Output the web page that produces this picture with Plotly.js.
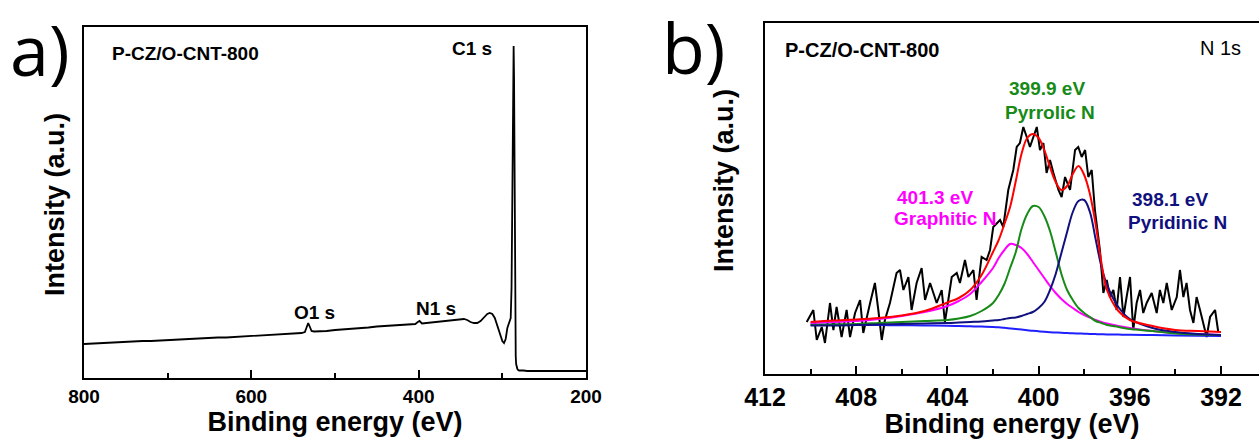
<!DOCTYPE html>
<html>
<head>
<meta charset="utf-8">
<script src="https://cdn.plot.ly/plotly-3.0.1.min.js"></script>
<style>html,body{margin:0;padding:0;background:#fff;overflow:hidden}#chart{width:1259px;height:439px}</style>
</head>
<body>
<div id="chart"></div>
<script>
// ---- Panel a: XPS survey spectrum ----
const surveyE = [800,790,780,770,760,750,740,730,720,710,700,
  690,680,670,660,650,640,630,620,610,600,590,580,570,560,550,
  545,540,536,534,532,530,528,525,520,
  510,500,490,480,470,460,450,440,430,420,410,
  404,401,399,396,
  390,380,370,360,352,346,342,338,334,330,326,322,318,315,312,309,306,303,300,298,296,294,292,290,
  289,288,287.5,287,286.5,286,285.5,285,284.5,284,283.5,283,282,281,280,
  275,270,260,250,240,230,220,210,200];
const surveyI = [34,34.5,35,35.5,35.5,36,36.5,37,37,37.5,38,
  38.5,38.5,39,39.5,40,40.5,40.5,41,41.5,42,42.5,43,43.5,44,44.5,
  45,45,46,50,55,51,47,46.5,46.5,
  47,48,48.5,49.5,50,50.5,51.5,52,52.5,53,53.5,
  54,56,57,54.5,
  55,56,57,57.5,58.5,59,58,56,55,55,57,61,64,65,64,60,53,44,37,35,39,50,56,60,
  90,180,260,318,332,300,210,120,50,22,14,11,9,8,7.5,
  7.5,7,7,7,7,7,7,7,7];

// ---- Panel b: N 1s high-resolution spectrum ----
const n1sE = [410.17,409.88,409.73,409.51,409.37,409.15,409.00,408.86,408.64,408.42,
  408.27,408.05,407.83,407.69,407.39,407.18,407.03,406.88,406.74,406.52,
  406.23,406.08,405.93,405.71,405.57,405.35,405.13,404.98,404.76,404.47,
  404.25,404.11,403.96,403.81,403.59,403.45,403.23,403.08,402.86,402.72,
  402.57,402.50,402.28,402.13,401.99,401.69,401.55,401.33,401.11,400.96,
  400.82,400.67,400.52,400.38,400.23,400.08,399.94,399.79,399.65,399.50,
  399.35,399.13,398.99,398.84,398.62,398.40,398.26,398.11,397.96,397.82,
  397.67,397.53,397.31,397.16,397.01,396.87,396.72,396.58,396.43,396.28,
  396.14,395.99,395.85,395.70,395.55,395.41,395.26,395.04,394.82,394.68,
  394.53,394.38,394.16,393.94,393.80,393.65,393.51,393.36,393.21,393.07,
  392.92,392.77,392.63,392.48,392.26,392.12];
const n1sRaw = [52,64,34,47,31,71,44,67,37,64,
  37,61,74,41,71,91,64,34,54,71,
  101,104,84,97,64,91,106,74,91,71,
  84,52,74,97,101,91,114,97,104,74,
  104,117,114,124,147,154,147,184,204,227,
  231,247,237,227,237,247,224,231,201,214,
  201,184,177,197,184,224,227,217,224,197,
  204,164,124,81,94,77,84,64,97,57,
  77,97,44,71,84,61,71,81,61,84,
  71,91,64,77,104,77,91,64,51,77,
  64,51,37,57,64,42];

const fitE = [410,409,408,407,406,405,404,403.5,403,402.5,402,401.75,401.5,401.25,401,400.75,400.5,400.25,400,
  399.75,399.5,399.25,399,398.75,398.5,398.25,398,397.75,397.5,397.25,397,396.5,396,395,394,393,392];
const fitEnvelope = [52,53.5,54.5,56,58.5,63,71.5,76,84,99,122,134,150,167,193,220,236,240,236,
  224,207,192,184,188,200,208,199,180,150,112,84,63,54,48,44,43,42];
const fitGraphitic = [51,52,53,55,58,62,68,73,80,92,106,116,124,130,129,126,120,112,104,
  96,88,81,75,70,66,62,59,56.5,54,52,50.5,48,46,43,41,40,39];
const fitPyrrolic = [49,49.5,50,51,52,53,54,55.5,58,63,71,79,90,106,122,145,160,168,167,
  158,143,122,100,84,74,66,61,57,53,51,49,47,45,43,40.5,39.5,39];
const fitPyridinic = [48.5,48.5,49,49.5,50,50.5,51,51.5,52,52.5,53.5,54,55,56,56.5,58,60,62,66,
  72,84,100,121,142,162,173,174,162,135,108,89,67,55,46,42,40,39];
const fitBackground = [49.5,49.3,49.1,48.9,48.7,48.5,48.2,48,47.7,47.4,47,46.7,46.2,45.6,45,44.4,43.8,43.2,42.7,
  42.2,41.8,41.5,41.2,41,40.7,40.5,40.3,40.1,39.9,39.7,39.6,39.4,39.2,38.9,38.6,38.3,38];

const ticksA = [800,600,400,200];
const ticksB = [412,408,404,400,396,392];

const BF = 'Liberation Sans, Arial, Helvetica, sans-serif';
const fitLine = (c) => ({color: c, width: 2, shape: 'spline', smoothing: 1});

const traces = [
  {x: surveyE, y: surveyI, xaxis: 'x', yaxis: 'y', mode: 'lines', line: {color: '#000', width: 1.8}, name: 'Survey'},
  {x: n1sE, y: n1sRaw, xaxis: 'x2', yaxis: 'y2', mode: 'lines', line: {color: '#000', width: 2}, name: 'Raw'},
  {x: fitE, y: fitBackground, xaxis: 'x2', yaxis: 'y2', mode: 'lines', line: fitLine('#1f1fff'), name: 'Background'},
  {x: fitE, y: fitGraphitic, xaxis: 'x2', yaxis: 'y2', mode: 'lines', line: fitLine('#ff00ff'), name: 'Graphitic N'},
  {x: fitE, y: fitPyrrolic, xaxis: 'x2', yaxis: 'y2', mode: 'lines', line: fitLine('#178a17'), name: 'Pyrrolic N'},
  {x: fitE, y: fitPyridinic, xaxis: 'x2', yaxis: 'y2', mode: 'lines', line: fitLine('#10107e'), name: 'Pyridinic N'},
  {x: fitE, y: fitEnvelope, xaxis: 'x2', yaxis: 'y2', mode: 'lines', line: fitLine('#ff0000'), name: 'Envelope'}
];

const W = 1259, H = 439;
const px = (v) => v / W, py = (v) => 1 - v / H;

const axCommon = {showline: true, linecolor: '#000', linewidth: 2, showgrid: false, zeroline: false,
  ticks: 'inside', tickcolor: '#000', tickwidth: 2, ticklen: 8};

function note(xref, yref, x, y, text, size, color, bold, extra) {
  return Object.assign({xref: xref, yref: yref, x: x, y: y, text: text, showarrow: false,
    xanchor: 'center', yanchor: 'middle',
    font: {family: BF, size: size, color: color, weight: bold ? 'bold' : 'normal'}}, extra || {});
}

const layout = {
  width: W, height: H,
  margin: {l: 0, r: 0, t: 0, b: 0},
  paper_bgcolor: '#fff', plot_bgcolor: 'rgba(0,0,0,0)',
  showlegend: false,
  xaxis: Object.assign({}, axCommon, {
    domain: [px(84), px(586)], range: [800, 200], anchor: 'y', mirror: true,
    tickvals: ticksA, ticktext: ticksA.map(String),
    minor: {tickvals: [700, 500, 300], ticks: 'inside', ticklen: 5, tickwidth: 2, tickcolor: '#000', showgrid: false},
    tickfont: {family: BF, size: 19, color: '#000', weight: 'bold'},
    title: {text: 'Binding energy (eV)', font: {family: BF, size: 27, color: '#000', weight: 'bold'}, standoff: 2}
  }),
  yaxis: Object.assign({}, axCommon, {
    domain: [py(378), py(27)], range: [0, 351], anchor: 'x', mirror: true,
    ticks: '', showticklabels: false
  }),
  xaxis2: Object.assign({}, axCommon, {
    domain: [px(765), 1], range: [412, 412 - (W - 765) / 22.8], anchor: 'y2', mirror: true,
    tickvals: ticksB, ticktext: ticksB.map(String),
    minor: {tickvals: [410, 406, 402, 398, 394], ticks: 'inside', ticklen: 5, tickwidth: 2, tickcolor: '#000', showgrid: false},
    tickfont: {family: BF, size: 25, color: '#000', weight: 'bold'},
    title: {text: 'Binding energy (eV)', font: {family: BF, size: 27, color: '#000', weight: 'bold'}, standoff: 2}
  }),
  yaxis2: Object.assign({}, axCommon, {
    domain: [py(374), py(23)], range: [0, 351], anchor: 'x2', mirror: false,
    ticks: '', showticklabels: false
  }),
  annotations: [
    Object.assign(note('paper', 'paper', px(40), py(49), 'a)', 70, '#000', false),
      {font: {family: 'Open Sans, sans-serif', size: 70, color: '#000'}}),
    Object.assign(note('paper', 'paper', px(693), py(47), 'b)', 70, '#000', false),
      {font: {family: 'Open Sans, sans-serif', size: 70, color: '#000'}}),
    note('paper', 'paper', px(55), py(205), 'Intensity (a.u.)', 27, '#000', true, {textangle: -90}),
    note('paper', 'paper', px(724), py(181), 'Intensity (a.u.)', 27, '#000', true, {textangle: -90}),
    // panel a labels
    note('x', 'y', 768.9, 325, 'P-CZ/O-CNT-800', 19, '#000', true, {xanchor: 'left'}),
    note('x', 'y', 336.3, 330, 'C1 s', 19, '#000', true),
    note('x', 'y', 525, 66, 'O1 s', 19, '#000', true),
    note('x', 'y', 379.3, 70, 'N1 s', 19, '#000', true),
    // panel b labels
    note('x2', 'y2', 411.21, 324, 'P-CZ/O-CNT-800', 20, '#000', true, {xanchor: 'left'}),
    note('x2', 'y2', 391.04, 326, 'N 1s', 20, '#000', false, {xanchor: 'right'}),
    note('x2', 'y2', 399.63, 286, '399.9 eV', 19, '#178a17', true),
    note('x2', 'y2', 399.5, 262, 'Pyrrolic N', 19, '#178a17', true),
    note('x2', 'y2', 404.54, 177, '401.3 eV', 19, '#ff00ff', true),
    note('x2', 'y2', 404.11, 156, 'Graphitic N', 19, '#ff00ff', true),
    note('x2', 'y2', 394.24, 175, '398.1 eV', 19, '#10107e', true),
    note('x2', 'y2', 393.89, 152, 'Pyridinic N', 19, '#10107e', true)
  ]
};

Plotly.newPlot('chart', traces, layout, {staticPlot: true, displayModeBar: false});
</script>
</body>
</html>
